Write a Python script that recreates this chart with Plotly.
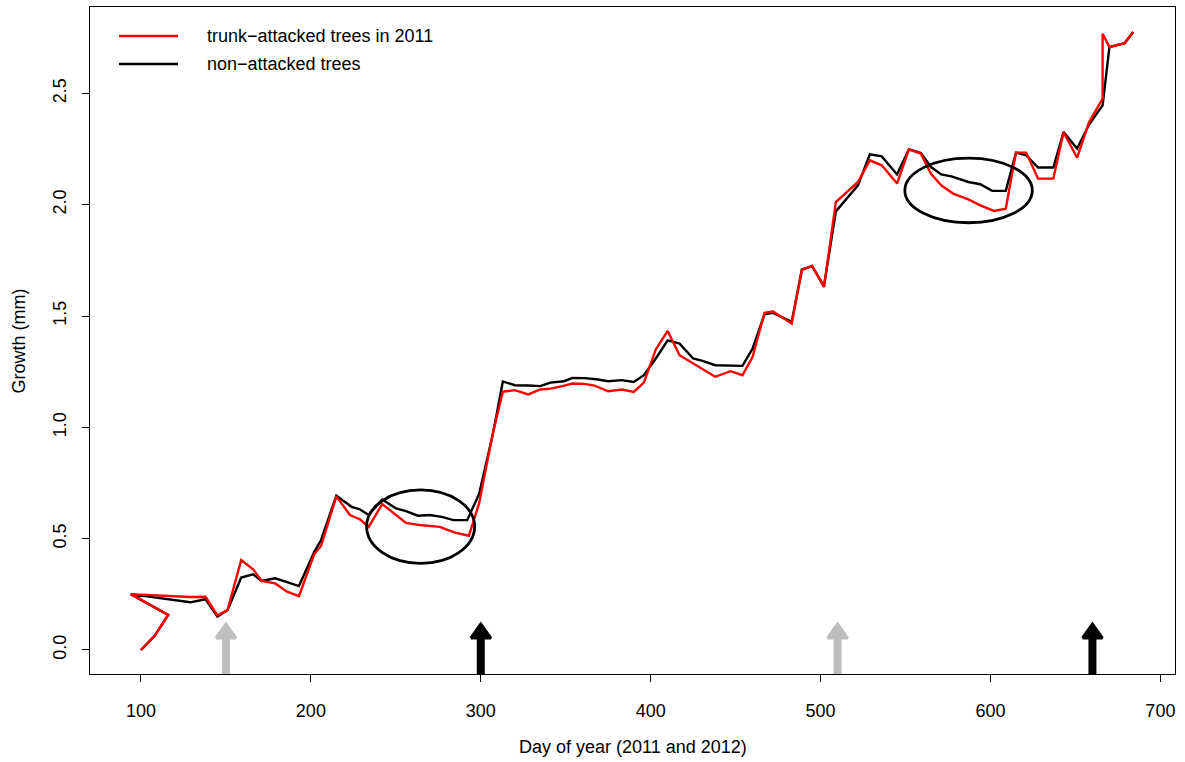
import plotly.graph_objects as go

# ---------------- data ----------------
red_days = [100, 108, 116, 94, 129, 138, 145, 151, 159, 166, 171, 179, 186, 193,
            202, 206, 215, 223, 229, 234, 242, 249, 256, 264, 270, 276, 280, 285,
            293, 299, 307, 313, 320, 328, 335, 341, 348, 354, 361, 367, 375, 383,
            390, 396, 403, 410, 417, 425, 431, 438, 447, 454, 460, 467, 472, 483,
            489, 495, 502, 509, 522, 529, 536, 545, 552, 559, 565, 571, 578, 587,
            594, 602, 609, 615, 621, 628, 637, 643, 651, 658, 666, 666, 670, 679, 684]
red_growth = [0.0, 0.063, 0.157, 0.251, 0.238, 0.239, 0.155, 0.18, 0.404, 0.362,
              0.31, 0.299, 0.262, 0.242, 0.431, 0.467, 0.69, 0.606, 0.586, 0.553,
              0.655, 0.613, 0.571, 0.561, 0.557, 0.553, 0.541, 0.527, 0.513, 0.658,
              0.97, 1.16, 1.167, 1.148, 1.170, 1.174, 1.185, 1.197, 1.195, 1.187,
              1.162, 1.170, 1.159, 1.201, 1.350, 1.433, 1.324, 1.287, 1.262, 1.227,
              1.252, 1.234, 1.317, 1.514, 1.520, 1.466, 1.706, 1.726, 1.630, 2.012,
              2.102, 2.199, 2.177, 2.095, 2.249, 2.229, 2.139, 2.087, 2.050, 2.024,
              1.997, 1.972, 1.982, 2.234, 2.234, 2.117, 2.117, 2.326, 2.211, 2.37,
              2.476, 2.768, 2.708, 2.726, 2.776]

black_days = [100, 108, 116, 94, 129, 138, 145, 151, 159, 166, 171, 179, 186, 193,
              202, 206, 215, 224, 229, 234, 242, 250, 256, 263, 270, 277, 284, 292,
              299, 307, 313, 320, 328, 335, 341, 349, 354, 361, 368, 375, 383, 390,
              396, 403, 410, 417, 425, 431, 438, 447, 454, 460, 467, 472, 483, 489,
              495, 502, 509, 522, 529, 536, 545, 552, 559, 565, 571, 577, 587, 594,
              601, 609, 615, 621, 628, 637, 643, 651, 658, 666, 670, 679, 684]
black_growth = [0.0, 0.063, 0.157, 0.251, 0.214, 0.228, 0.150, 0.18, 0.325, 0.34,
                0.31, 0.322, 0.305, 0.287, 0.441, 0.494, 0.693, 0.643, 0.631, 0.606,
                0.676, 0.636, 0.624, 0.603, 0.606, 0.598, 0.583, 0.583, 0.70, 0.965,
                1.206, 1.189, 1.188, 1.185, 1.201, 1.207, 1.222, 1.221, 1.216, 1.207,
                1.212, 1.204, 1.234, 1.309, 1.391, 1.376, 1.309, 1.297, 1.279, 1.277,
                1.276, 1.354, 1.508, 1.514, 1.474, 1.709, 1.724, 1.634, 1.970, 2.087,
                2.226, 2.217, 2.136, 2.249, 2.232, 2.169, 2.136, 2.127, 2.102, 2.092,
                2.062, 2.062, 2.234, 2.222, 2.167, 2.167, 2.326, 2.252, 2.36, 2.446,
                2.708, 2.726, 2.776]

series_names = ["trunk\u2212attacked trees in 2011", "non\u2212attacked trees"]
series_colors = ["#FF0000", "#000000"]

arrow_days = [150, 300, 510, 660]
arrow_colors = ["#BEBEBE", "#000000", "#BEBEBE", "#000000"]
arrow_tip = 0.121

# ellipses: centre day, centre growth, x radius (days), y radius (mm)
ellipse_cx = [264.6, 587.1]
ellipse_cy = [0.554, 2.064]
ellipse_rx = [31.8, 37.5]
ellipse_ry = [0.165, 0.145]

x_ticks = [100, 200, 300, 400, 500, 600, 700]
y_ticks = [0.0, 0.5, 1.0, 1.5, 2.0, 2.5]
y_ticktext = ["0.0", "0.5", "1.0", "1.5", "2.0", "2.5"]

# ---------------- layout geometry ----------------
W, H = 1185, 762
ML, MR, MT, MB = 90, 10, 7, 88
PW, PH = W - ML - MR, H - MT - MB
x_range = [70.0, 708.6]
y_range = [-0.108, 2.888]
dx_px = (x_range[1] - x_range[0]) / PW
dy_px = (y_range[1] - y_range[0]) / PH

FONT = "Liberation Sans, Arial, Helvetica, sans-serif"
FS = 18

fig = go.Figure()

# lines: black first, red on top
fig.add_trace(go.Scatter(x=black_days, y=black_growth, mode="lines",
                         line=dict(color=series_colors[1], width=2.4),
                         name=series_names[1], hoverinfo="skip", showlegend=False))
fig.add_trace(go.Scatter(x=red_days, y=red_growth, mode="lines",
                         line=dict(color=series_colors[0], width=2.4),
                         name=series_names[0], hoverinfo="skip", showlegend=False))

# arrows
head_h = 15 * dy_px
head_hw = 10 * dx_px
for d, c in zip(arrow_days, arrow_colors):
    fig.add_trace(go.Scatter(x=[d, d], y=[y_range[0], arrow_tip - head_h * 0.6],
                             mode="lines", line=dict(color=c, width=8),
                             hoverinfo="skip", showlegend=False))
    fig.add_trace(go.Scatter(x=[d - head_hw, d, d + head_hw, d - head_hw],
                             y=[arrow_tip - head_h, arrow_tip - 1 * dy_px,
                                arrow_tip - head_h, arrow_tip - head_h],
                             mode="lines", fill="toself", fillcolor=c,
                             line=dict(color=c, width=3),
                             hoverinfo="skip", showlegend=False))

shapes = []
for cx, cy, rx, ry in zip(ellipse_cx, ellipse_cy, ellipse_rx, ellipse_ry):
    shapes.append(dict(type="circle", xref="x", yref="y",
                       x0=cx - rx, x1=cx + rx, y0=cy - ry, y1=cy + ry,
                       line=dict(color="black", width=2.8)))

# custom legend
annotations = []
leg_y_px = [36, 64]
for name, col, ypx in zip(series_names, series_colors, leg_y_px):
    yp = (H - MB - ypx) / PH
    shapes.append(dict(type="line", xref="paper", yref="paper",
                       x0=(119 - ML) / PW, x1=(178 - ML) / PW, y0=yp, y1=yp,
                       line=dict(color=col, width=2.4)))
    annotations.append(dict(text=name, xref="paper", yref="paper",
                            x=(205 - ML) / PW, y=yp, xanchor="left", yanchor="middle",
                            showarrow=False, font=dict(family=FONT, size=FS, color="black")))

annotations.append(dict(text="Day of year (2011 and 2012)", xref="paper", yref="paper",
                        x=0.5, y=(H - MB - 747) / PH, xanchor="center", yanchor="middle",
                        showarrow=False, font=dict(family=FONT, size=FS, color="black")))
annotations.append(dict(text="Growth (mm)", xref="paper", yref="paper",
                        x=(18 - ML) / PW, y=0.5, xanchor="center", yanchor="middle",
                        textangle=-90, showarrow=False,
                        font=dict(family=FONT, size=FS, color="black")))

fig.update_layout(
    width=W, height=H, margin=dict(l=ML, r=MR, t=MT, b=MB),
    paper_bgcolor="white", plot_bgcolor="white",
    font=dict(family=FONT, size=FS, color="black"),
    shapes=shapes, annotations=annotations, showlegend=False,
    xaxis=dict(range=x_range, tickvals=x_ticks, showgrid=False, zeroline=False,
               showline=True, mirror=True, linecolor="black", linewidth=1,
               ticks="outside", ticklen=7, tickwidth=1, tickcolor="black",
               ticklabelstandoff=13, tickfont=dict(family=FONT, size=FS)),
    yaxis=dict(range=y_range, tickvals=y_ticks, ticktext=y_ticktext, showgrid=False,
               zeroline=False, showline=True, mirror=True, linecolor="black",
               linewidth=1, ticks="outside", ticklen=7, tickwidth=1, tickcolor="black",
               tickangle=-90, ticklabelstandoff=9, tickfont=dict(family=FONT, size=FS)),
)

fig.write_html("out.html", config={"displayModeBar": False},
               post_script="document.body.style.margin='0px';document.body.style.overflow='hidden';")
